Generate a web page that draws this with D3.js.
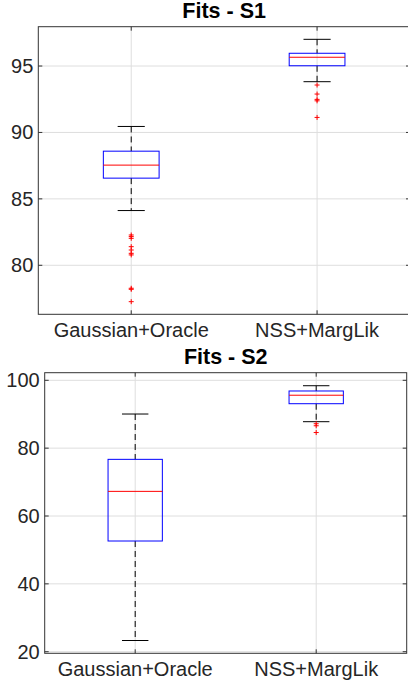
<!DOCTYPE html>
<html>
<head>
<meta charset="utf-8">
<script src="https://cdn.jsdelivr.net/npm/d3@7"></script>
<style>
  html, body { margin: 0; padding: 0; background: #fff; }
  svg { display: block; }
  text { font-family: "Liberation Sans", Arial, Helvetica, sans-serif; }
</style>
</head>
<body>
<svg id="chart" width="408" height="684"></svg>
<script>
// ---- data ----
const categories = ["Gaussian+Oracle", "NSS+MargLik"];
const titles = ["Fits - S1", "Fits - S2"];

// panel S1
const s1WhiskerLow  = [84.12, 93.82];
const s1Q1          = [86.56, 95.02];
const s1Median      = [87.54, 95.66];
const s1Q3          = [88.59, 95.96];
const s1WhiskerHigh = [90.45, 97.01];
const s1Outliers    = [
  [82.28, 82.16, 82.03, 81.40, 81.15, 80.90, 80.78, 78.27, 78.19, 77.26],
  [93.57, 92.89, 92.49, 92.38, 91.13]
];
const s1Ticks = [80, 85, 90, 95];
const s1Domain = [76.31, 97.96];

// panel S2
const s2WhiskerLow  = [23.3, 87.8];
const s2Q1          = [52.63, 93.1];
const s2Median      = [67.26, 95.6];
const s2Q3          = [76.7, 96.85];
const s2WhiskerHigh = [90.06, 98.4];
const s2Outliers    = [
  [],
  [87.2, 86.6, 84.6]
];
const s2Ticks = [20, 40, 60, 80, 100];
const s2Domain = [19.53, 102.24];

// ---- drawing ----
const svg = d3.select("#chart");

const panels = [
  { title: titles[0], lo: s1WhiskerLow, q1: s1Q1, med: s1Median, q3: s1Q3, hi: s1WhiskerHigh,
    out: s1Outliers, ticks: s1Ticks, domain: s1Domain,
    left: 38.3, right: 410, top: 26.7, bottom: 314.3, titleY: 18 },
  { title: titles[1], lo: s2WhiskerLow, q1: s2Q1, med: s2Median, q3: s2Q3, hi: s2WhiskerHigh,
    out: s2Outliers, ticks: s2Ticks, domain: s2Domain,
    left: 44.7, right: 406.7, top: 372.7, bottom: 653.3, titleY: 363.5 }
];

const axisColor = "#333333";
const gridColor = "#dedede";
const boxHalf = 0.15;
const capHalf = 0.073;
const tickLen = 4;

panels.forEach(p => {
  const x = d3.scaleLinear().domain([0.5, 2.5]).range([p.left, p.right]);
  const y = d3.scaleLinear().domain(p.domain).range([p.bottom, p.top]);
  const g = svg.append("g");
  const idx = categories.map((c, i) => i);

  // grid
  g.selectAll(".gy").data(p.ticks).join("line")
    .attr("x1", p.left).attr("x2", p.right)
    .attr("y1", d => y(d)).attr("y2", d => y(d))
    .attr("stroke", gridColor).attr("stroke-width", 1);
  g.selectAll(".gx").data(idx).join("line")
    .attr("x1", i => x(i + 1)).attr("x2", i => x(i + 1))
    .attr("y1", p.top).attr("y2", p.bottom)
    .attr("stroke", gridColor).attr("stroke-width", 1);

  // whiskers (dashed)
  idx.forEach(i => {
    const cx = x(i + 1);
    g.append("line").attr("x1", cx).attr("x2", cx)
      .attr("y1", y(p.hi[i])).attr("y2", y(p.q3[i]))
      .attr("stroke", "#000").attr("stroke-width", 1).attr("stroke-dasharray", "6,4");
    g.append("line").attr("x1", cx).attr("x2", cx)
      .attr("y1", y(p.q1[i])).attr("y2", y(p.lo[i]))
      .attr("stroke", "#000").attr("stroke-width", 1).attr("stroke-dasharray", "6,4");
    // caps
    [p.hi[i], p.lo[i]].forEach(v => {
      g.append("line")
        .attr("x1", x(i + 1 - capHalf)).attr("x2", x(i + 1 + capHalf))
        .attr("y1", y(v)).attr("y2", y(v))
        .attr("stroke", "#000").attr("stroke-width", 1);
    });
    // box
    g.append("rect")
      .attr("x", x(i + 1 - boxHalf)).attr("width", x(i + 1 + boxHalf) - x(i + 1 - boxHalf))
      .attr("y", y(p.q3[i])).attr("height", y(p.q1[i]) - y(p.q3[i]))
      .attr("fill", "none").attr("stroke", "#0000ff").attr("stroke-width", 1);
    // median
    g.append("line")
      .attr("x1", x(i + 1 - boxHalf)).attr("x2", x(i + 1 + boxHalf))
      .attr("y1", y(p.med[i])).attr("y2", y(p.med[i]))
      .attr("stroke", "#ff0000").attr("stroke-width", 1);
    // outliers
    p.out[i].forEach(v => {
      const oy = y(v);
      g.append("path")
        .attr("d", `M${cx - 2.5},${oy}H${cx + 2.5}M${cx},${oy - 2.5}V${oy + 2.5}`)
        .attr("stroke", "#ff0000").attr("stroke-width", 1).attr("fill", "none");
    });
  });

  // axes box
  g.append("rect")
    .attr("x", p.left).attr("y", p.top)
    .attr("width", p.right - p.left).attr("height", p.bottom - p.top)
    .attr("fill", "none").attr("stroke", axisColor).attr("stroke-width", 1);

  // ticks (inward) on all four sides
  p.ticks.forEach(t => {
    g.append("line").attr("x1", p.left).attr("x2", p.left + tickLen)
      .attr("y1", y(t)).attr("y2", y(t)).attr("stroke", axisColor);
    g.append("line").attr("x1", p.right).attr("x2", p.right - tickLen)
      .attr("y1", y(t)).attr("y2", y(t)).attr("stroke", axisColor);
  });
  idx.forEach(i => {
    g.append("line").attr("x1", x(i + 1)).attr("x2", x(i + 1))
      .attr("y1", p.bottom).attr("y2", p.bottom - tickLen).attr("stroke", axisColor);
    g.append("line").attr("x1", x(i + 1)).attr("x2", x(i + 1))
      .attr("y1", p.top).attr("y2", p.top + tickLen).attr("stroke", axisColor);
  });

  // y tick labels
  g.selectAll(".yl").data(p.ticks).join("text")
    .attr("x", p.left - 5).attr("y", d => y(d))
    .attr("text-anchor", "end").attr("dominant-baseline", "central")
    .attr("font-size", 20).attr("fill", "#262626")
    .text(d => d);

  // x tick labels
  g.selectAll(".xl").data(categories).join("text")
    .attr("x", (d, i) => x(i + 1)).attr("y", p.bottom + 23)
    .attr("text-anchor", "middle")
    .attr("font-size", 20).attr("fill", "#262626")
    .text(d => d);

  // title
  g.append("text")
    .attr("x", (p.left + p.right) / 2).attr("y", p.titleY)
    .attr("text-anchor", "middle").attr("font-size", 21.5).attr("font-weight", "bold")
    .attr("fill", "#000")
    .text(p.title);
});
</script>
</body>
</html>
